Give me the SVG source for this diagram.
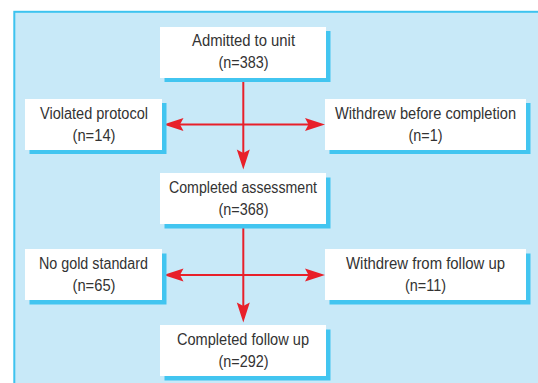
<svg xmlns="http://www.w3.org/2000/svg" width="538" height="383" viewBox="0 0 538 383">
  <style>
    .shadow { fill: #42c5f0; }
    .box { fill: #ffffff; }
    .t { font-family: "Liberation Sans", Arial, sans-serif; font-size: 16px; fill: #333333; text-anchor: middle; }
    .conn { stroke: #e8202a; stroke-width: 2; fill: none; }
  </style>
  <defs>
    <marker id="arr" viewBox="-21 -7 22 14" markerWidth="22" markerHeight="14" refX="-5" refY="0" markerUnits="userSpaceOnUse" orient="auto">
      <path d="M0,0 L-20,-6.5 L-16.5,0 L-20,6.5 Z" fill="#e8202a"/>
    </marker>
  </defs>
  <rect x="0" y="0" width="538" height="383" fill="#ffffff"/>
  <rect x="14.3" y="11.8" width="600" height="400" fill="#c8e9f8" stroke="#3dc3ef" stroke-width="2"/>

  <g id="connectors">
    <line class="conn" x1="243.3" y1="78" x2="243.3" y2="164.5" marker-end="url(#arr)"/>
    <line class="conn" x1="243.3" y1="124.5" x2="168.5" y2="124.5" marker-end="url(#arr)"/>
    <line class="conn" x1="243.3" y1="124.5" x2="320" y2="124.5" marker-end="url(#arr)"/>
    <line class="conn" x1="243.3" y1="223" x2="243.3" y2="317.5" marker-end="url(#arr)"/>
    <line class="conn" x1="243.3" y1="275" x2="168.5" y2="275" marker-end="url(#arr)"/>
    <line class="conn" x1="243.3" y1="275" x2="320" y2="275" marker-end="url(#arr)"/>
  </g>

  <g id="admitted">
    <rect class="shadow" x="164.5" y="31" width="166" height="51"/>
    <rect class="box" x="160" y="27" width="166" height="51"/>
    <text class="t" x="243.5" y="46" textLength="103" lengthAdjust="spacingAndGlyphs">Admitted to unit</text>
    <text class="t" x="243.5" y="68" textLength="50" lengthAdjust="spacingAndGlyphs">(n=383)</text>
  </g>

  <g id="violated">
    <rect class="shadow" x="29.5" y="103" width="137" height="51"/>
    <rect class="box" x="25" y="99" width="137" height="51"/>
    <text class="t" x="94" y="119" textLength="108" lengthAdjust="spacingAndGlyphs">Violated protocol</text>
    <text class="t" x="94" y="141" textLength="43" lengthAdjust="spacingAndGlyphs">(n=14)</text>
  </g>

  <g id="withdrew-before">
    <rect class="shadow" x="329.5" y="103" width="201" height="51"/>
    <rect class="box" x="325" y="99" width="201" height="51"/>
    <text class="t" x="425.5" y="119" textLength="181" lengthAdjust="spacingAndGlyphs">Withdrew before completion</text>
    <text class="t" x="425.5" y="141" textLength="34" lengthAdjust="spacingAndGlyphs">(n=1)</text>
  </g>

  <g id="completed-assessment">
    <rect class="shadow" x="164.5" y="177.5" width="166" height="51"/>
    <rect class="box" x="160" y="173" width="166" height="51"/>
    <text class="t" x="243" y="193" textLength="148" lengthAdjust="spacingAndGlyphs">Completed assessment</text>
    <text class="t" x="243.5" y="215" textLength="50" lengthAdjust="spacingAndGlyphs">(n=368)</text>
  </g>

  <g id="no-gold">
    <rect class="shadow" x="29.5" y="253.5" width="137" height="51"/>
    <rect class="box" x="25" y="249" width="137" height="51"/>
    <text class="t" x="93.5" y="269" textLength="109" lengthAdjust="spacingAndGlyphs">No gold standard</text>
    <text class="t" x="94" y="291" textLength="43" lengthAdjust="spacingAndGlyphs">(n=65)</text>
  </g>

  <g id="withdrew-followup">
    <rect class="shadow" x="329.5" y="253.5" width="201" height="51"/>
    <rect class="box" x="325" y="249" width="201" height="51"/>
    <text class="t" x="425.5" y="269" textLength="159" lengthAdjust="spacingAndGlyphs">Withdrew from follow up</text>
    <text class="t" x="425.5" y="291" textLength="41" lengthAdjust="spacingAndGlyphs">(n=11)</text>
  </g>

  <g id="completed-followup">
    <rect class="shadow" x="164.5" y="329.5" width="166" height="51"/>
    <rect class="box" x="160" y="325" width="166" height="51"/>
    <text class="t" x="243" y="345" textLength="132" lengthAdjust="spacingAndGlyphs">Completed follow up</text>
    <text class="t" x="243.5" y="367" textLength="50" lengthAdjust="spacingAndGlyphs">(n=292)</text>
  </g>
</svg>
